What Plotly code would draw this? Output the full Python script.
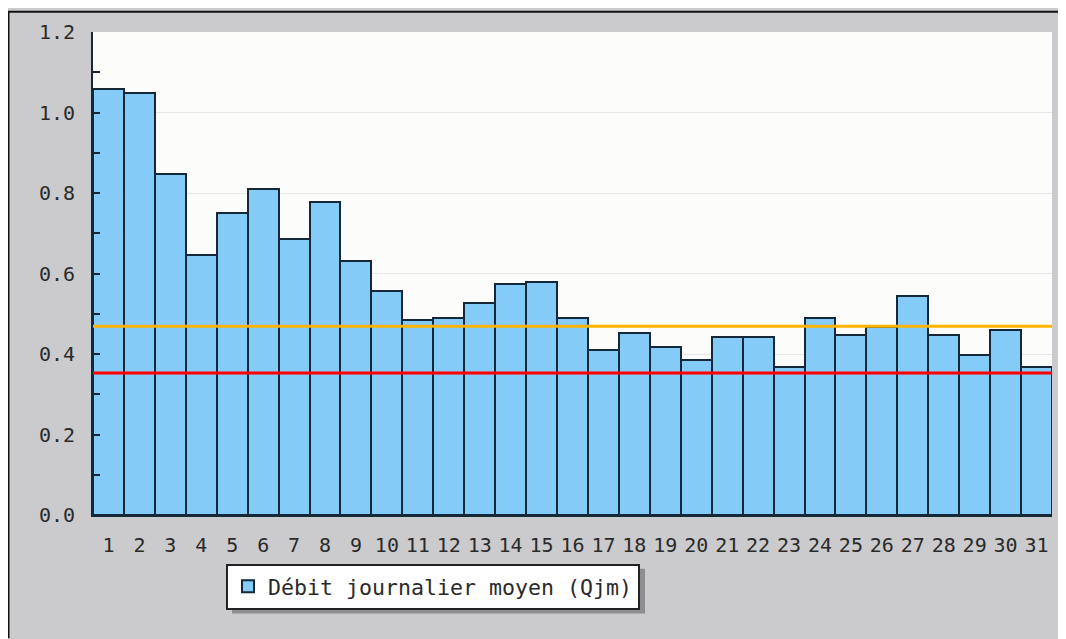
import plotly.graph_objects as go

# ---- data ----
days = list(range(1, 32))
qjm = [1.059, 1.049, 0.847, 0.647, 0.751, 0.810, 0.686, 0.778, 0.630, 0.556,
       0.484, 0.489, 0.526, 0.573, 0.578, 0.489, 0.410, 0.452, 0.417, 0.385,
       0.442, 0.442, 0.368, 0.489, 0.447, 0.467, 0.543, 0.447, 0.398, 0.459,
       0.368]
orange_level = 0.469
red_level = 0.353
y_ticks = [0.0, 0.2, 0.4, 0.6, 0.8, 1.0, 1.2]
legend_label = "Débit journalier moyen (Qjm)"

# page has an 8px body margin: figure origin sits at (8, 8) in the window
OFF = 8
W, H = 1066 - OFF, 639 - OFF
L, R, T, B = 93 - OFF, 1066 - 1052, 29 - OFF, 639 - 515
PW = W - L - R
PH = H - T - B


def px(x):  # window pixel x -> paper x
    return (x - OFF - L) / PW


def py(y):  # window pixel y -> paper y
    return (H - B - (y - OFF)) / PH


MONO = "DejaVu Sans Mono, Liberation Mono, monospace"
BG = "#cbcacd"
TXT = "#2a2a2a"

fig = go.Figure()
fig.add_trace(go.Bar(
    x=days, y=qjm, name=legend_label,
    marker=dict(color="#84cbf7", line=dict(color="#14283a", width=2)),
    showlegend=True,
))

fig.add_hline(y=orange_level, line=dict(color="#ffb400", width=3))
fig.add_hline(y=red_level, line=dict(color="#ff0000", width=3))

shapes = []
# black frame lines (top, left) at the figure edge
shapes.append(dict(type="line", xref="paper", yref="paper", x0=px(8), x1=px(1066),
                   y0=py(8.5), y1=py(8.5), line=dict(color="#111", width=2), layer="below"))
shapes.append(dict(type="line", xref="paper", yref="paper", x0=px(8.5), x1=px(8.5),
                   y0=py(8), y1=py(639), line=dict(color="#111", width=2), layer="below"))
# legend shadow
shapes.append(dict(type="rect", xref="paper", yref="paper", x0=px(232), x1=px(645),
                   y0=py(569), y1=py(614), fillcolor="#8e8d90", line=dict(width=0), layer="below"))
fig.update_layout(shapes=list(fig.layout.shapes) + shapes)

fig.update_layout(
    width=W, height=H,
    margin=dict(l=L, r=R, t=T, b=B),
    paper_bgcolor=BG,
    plot_bgcolor="#fcfdfb",
    bargap=0,
    font=dict(family=MONO, color=TXT),
    showlegend=True,
    legend=dict(
        x=px(226), y=py(564), xanchor="left", yanchor="top",
        bgcolor="white", bordercolor="#222222", borderwidth=2,
        font=dict(family=MONO, size=21.6, color=TXT),
        itemwidth=30,
    ),
    xaxis=dict(
        range=[0.5, 31.5], tickmode="array", tickvals=days,
        ticktext=[str(d) for d in days],
        showgrid=False, zeroline=False,
        showline=True, linecolor="#14283a", linewidth=2,
        ticks="", ticklabelstandoff=11,
        tickfont=dict(family=MONO, size=20, color=TXT),
    ),
    yaxis=dict(
        range=[0, 1.2], tickmode="array", tickvals=y_ticks,
        ticktext=[f"{v:.1f}" for v in y_ticks],
        showgrid=True, gridcolor="#e6e6e6", gridwidth=1,
        zeroline=False,
        showline=True, linecolor="#14283a", linewidth=2,
        ticks="inside", ticklen=7, tickwidth=2, tickcolor="#14283a",
        minor=dict(dtick=0.1, ticks="inside", ticklen=7, tickwidth=2,
                   tickcolor="#14283a", showgrid=False),
        ticklabelstandoff=12,
        tickfont=dict(family=MONO, size=20, color=TXT),
    ),
)

fig.write_html("out.html")
